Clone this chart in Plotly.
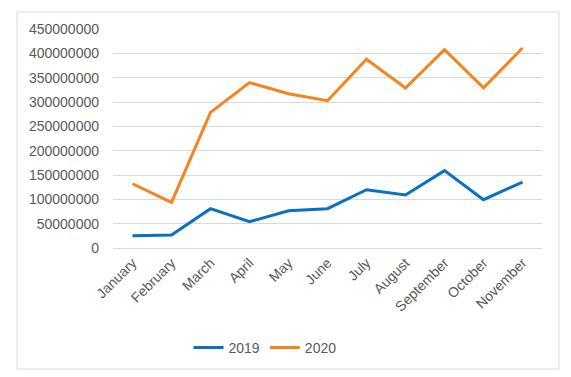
import plotly.graph_objects as go

months = ["January", "February", "March", "April", "May", "June", "July",
          "August", "September", "October", "November"]
sales_2019 = [25000000, 26700000, 80800000, 54000000, 76600000, 80800000,
              119800000, 109000000, 158900000, 99300000, 135600000]
sales_2020 = [132000000, 93700000, 278700000, 340000000, 317000000, 302700000,
              388000000, 328800000, 407500000, 329000000, 411000000]
y_ticks = list(range(0, 450000001, 50000000))

W, H = 571, 377
L, R, T, B = 113, 542, 29, 248
pw, ph = R - L, B - T

fig = go.Figure()
fig.add_trace(go.Scatter(x=months, y=sales_2019, name="2019", mode="lines",
                         line=dict(color="#0A70C2", width=3)))
fig.add_trace(go.Scatter(x=months, y=sales_2020, name="2020", mode="lines",
                         line=dict(color="#F7831F", width=3)))

def px(x):
    return (x - L) / pw

def py(y):
    return (B - y) / ph

fig.add_shape(type="rect", xref="paper", yref="paper",
              x0=px(17), x1=px(559), y0=py(369), y1=py(12),
              line=dict(color="#D9D9D9", width=1), layer="below")

fig.update_layout(
    width=W, height=H,
    margin=dict(l=L, r=W - R, t=T, b=H - B),
    paper_bgcolor="white", plot_bgcolor="white",
    font=dict(family="Liberation Sans, Arial, sans-serif", size=14, color="#595959"),
    showlegend=True,
    legend=dict(orientation="h", x=px(265), xanchor="center", y=py(348),
                yanchor="middle", itemwidth=30, font=dict(size=14, color="#595959"),
                bgcolor="rgba(0,0,0,0)"),
    xaxis=dict(showgrid=False, showline=False, zeroline=False, tickangle=-45,
               ticks="", automargin=False, range=[-0.5, len(months) - 0.5],
               ticklabelstandoff=3,
               tickfont=dict(size=14, color="#595959")),
    yaxis=dict(range=[0, 450000000], tickvals=y_ticks,
               ticktext=[str(v) for v in y_ticks], automargin=False,
               showgrid=True, gridcolor="#D9D9D9", gridwidth=1,
               zeroline=True, zerolinecolor="#D9D9D9", zerolinewidth=1,
               showline=False, ticks="", ticklabelstandoff=13,
               tickfont=dict(size=14, color="#595959")),
)

fig.write_html("out.html", config={"displayModeBar": False},
               post_script="document.body.style.margin='0';document.body.style.padding='0';document.body.style.overflow='hidden';")
